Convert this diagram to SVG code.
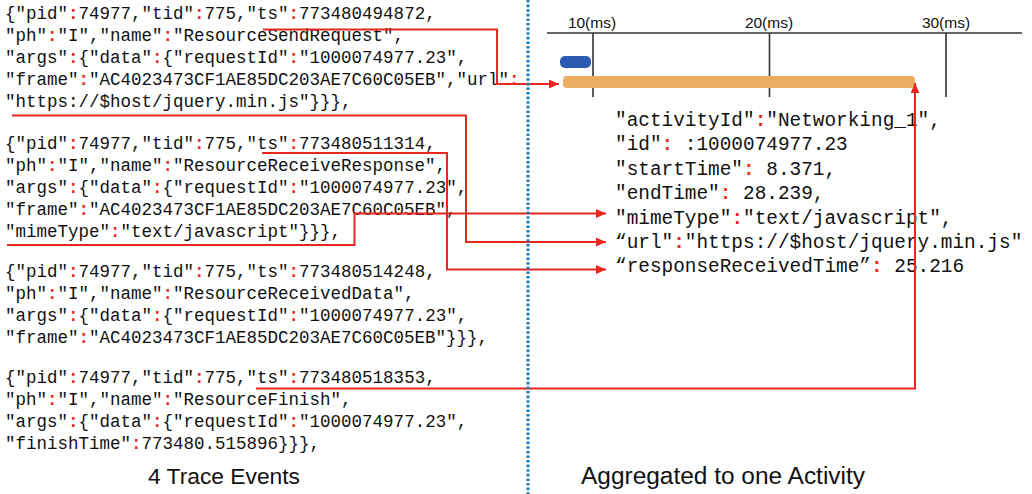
<svg xmlns="http://www.w3.org/2000/svg" width="1032" height="494" viewBox="0 0 1032 494">
<style>
.m{font-family:"Liberation Mono","DejaVu Sans Mono",monospace;font-size:17.5px;fill:#111}
.r{font-family:"Liberation Mono","DejaVu Sans Mono",monospace;font-size:19.4px;fill:#111}
.c{fill:#e8281e;font-weight:bold}
.lab{font-family:"Liberation Sans",Arial,sans-serif;fill:#111}
.tk{font-family:"Liberation Sans",Arial,sans-serif;font-size:15.5px;fill:#111;text-anchor:middle}
.conn{fill:none;stroke:#e8281e;stroke-width:2}
.ax{stroke:#333;stroke-width:1.6;fill:none}
</style>
<defs>
<marker id="ah" markerUnits="userSpaceOnUse" markerWidth="11" markerHeight="9" refX="10" refY="4.5" orient="auto">
<path d="M0,0 L10,4.5 L0,9 z" fill="#e8281e"/>
</marker>
</defs>

<g id="event1" class="m">
<text x="5" y="19">{"pid"<tspan class="c">:</tspan>74977,"tid"<tspan class="c">:</tspan>775,"ts"<tspan class="c">:</tspan>773480494872,</text>
<text x="5" y="41">"ph"<tspan class="c">:</tspan>"I","name"<tspan class="c">:</tspan>"ResourceSendRequest",</text>
<text x="5" y="63">"args"<tspan class="c">:</tspan>{"data"<tspan class="c">:</tspan>{"requestId"<tspan class="c">:</tspan>"1000074977.23",</text>
<text x="5" y="85">"frame"<tspan class="c">:</tspan>"AC4023473CF1AE85DC203AE7C60C05EB","url"<tspan class="c">:</tspan></text>
<text x="5" y="107">"https://$host/jquery.min.js"}}},</text>
</g>

<g id="event2" class="m">
<text x="5" y="149">{"pid"<tspan class="c">:</tspan>74977,"tid"<tspan class="c">:</tspan>775,"ts"<tspan class="c">:</tspan>773480511314,</text>
<text x="5" y="171">"ph"<tspan class="c">:</tspan>"I","name"<tspan class="c">:</tspan>"ResourceReceiveResponse",</text>
<text x="5" y="193">"args"<tspan class="c">:</tspan>{"data"<tspan class="c">:</tspan>{"requestId"<tspan class="c">:</tspan>"1000074977.23",</text>
<text x="5" y="215">"frame"<tspan class="c">:</tspan>"AC4023473CF1AE85DC203AE7C60C05EB",</text>
<text x="5" y="237">"mimeType"<tspan class="c">:</tspan>"text/javascript"}}},</text>
</g>

<g id="event3" class="m">
<text x="5" y="277">{"pid"<tspan class="c">:</tspan>74977,"tid"<tspan class="c">:</tspan>775,"ts"<tspan class="c">:</tspan>773480514248,</text>
<text x="5" y="299">"ph"<tspan class="c">:</tspan>"I","name"<tspan class="c">:</tspan>"ResourceReceivedData",</text>
<text x="5" y="321">"args"<tspan class="c">:</tspan>{"data"<tspan class="c">:</tspan>{"requestId"<tspan class="c">:</tspan>"1000074977.23",</text>
<text x="5" y="343">"frame"<tspan class="c">:</tspan>"AC4023473CF1AE85DC203AE7C60C05EB"}}},</text>
</g>

<g id="event4" class="m">
<text x="5" y="383">{"pid"<tspan class="c">:</tspan>74977,"tid"<tspan class="c">:</tspan>775,"ts"<tspan class="c">:</tspan>773480518353,</text>
<text x="5" y="405">"ph"<tspan class="c">:</tspan>"I","name"<tspan class="c">:</tspan>"ResourceFinish",</text>
<text x="5" y="427">"args"<tspan class="c">:</tspan>{"data"<tspan class="c">:</tspan>{"requestId"<tspan class="c">:</tspan>"1000074977.23",</text>
<text x="5" y="449">"finishTime"<tspan class="c">:</tspan>773480.515896}}},</text>
</g>

<g id="timeline">
<line class="ax" x1="547" y1="33" x2="1022" y2="33"/>
<line class="ax" x1="593" y1="33" x2="593" y2="97"/>
<line class="ax" x1="769.5" y1="33" x2="769.5" y2="97"/>
<line class="ax" x1="946" y1="33" x2="946" y2="97"/>
<text class="tk" x="592" y="28">10(ms)</text>
<text class="tk" x="769" y="28">20(ms)</text>
<text class="tk" x="946" y="28">30(ms)</text>
<rect x="560" y="56" width="31" height="12" rx="5" fill="#2a5bb0"/>
<rect x="563" y="76" width="352" height="12" rx="4" fill="#e9ae62"/>
</g>

<g id="activity" class="r">
<text x="615" y="126">"activityId"<tspan class="c">:</tspan>"Networking_1",</text>
<text x="615" y="150.4">"id"<tspan class="c">:</tspan> :1000074977.23</text>
<text x="615" y="174.8">"startTime"<tspan class="c">:</tspan> 8.371,</text>
<text x="615" y="199.2">"endTime"<tspan class="c">:</tspan> 28.239,</text>
<text x="615" y="223.6">"mimeType"<tspan class="c">:</tspan>"text/javascript",</text>
<text x="615" y="248">“url"<tspan class="c">:</tspan>"https://$host/jquery.min.js"</text>
<text x="615" y="272.4">“responseReceivedTime”<tspan class="c">:</tspan> 25.216</text>
</g>

<g id="labels">
<text class="lab" x="148" y="484" font-size="22" textLength="152" lengthAdjust="spacingAndGlyphs">4 Trace Events</text>
<text class="lab" x="581" y="484" font-size="23.5" textLength="284" lengthAdjust="spacingAndGlyphs">Aggregated to one Activity</text>
</g>

<g id="connectors">
<path class="conn" d="M263,29.5 H497 V84 H559" marker-end="url(#ah)"/>
<path class="conn" d="M12,115.5 H466 V242 H606" marker-end="url(#ah)"/>
<path class="conn" d="M262,153 H447 V269.5 H606" marker-end="url(#ah)"/>
<path class="conn" d="M7,245 H354.5 V213.5 H606" marker-end="url(#ah)"/>
<path class="conn" d="M256,388.5 H915 V83" marker-end="url(#ah)"/>
</g>

<g id="divider">
<line x1="528" y1="0" x2="528" y2="494" stroke="#1a78c2" stroke-width="3" stroke-dasharray="2.6 2"/>
</g>
</svg>
